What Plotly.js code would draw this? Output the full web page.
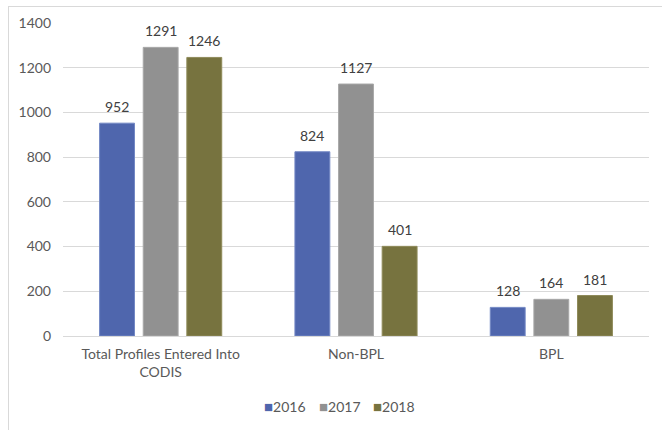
<!DOCTYPE html>
<html>
<head>
<meta charset="utf-8">
<script src="https://cdn.plot.ly/plotly-3.0.1.min.js"></script>
<style>
  html, body { margin: 0; padding: 0; background: #ffffff; }
  #wrap { position: relative; width: 662px; height: 430px; overflow: hidden; }
  #frame { position: absolute; left: 8px; top: 6px; width: 700px; height: 500px;
           border-top: 1.5px solid #d9d9d9; border-left: 1.5px solid #d9d9d9; pointer-events: none; }
  #chart { position: absolute; left: 0; top: 0; width: 662px; height: 430px; }
</style>
</head>
<body>
<div id="wrap">
  <div id="chart"></div>
  <div id="frame"></div>
</div>
<script>
const categories = ["Total Profiles Entered Into<br>CODIS", "Non-BPL", "BPL"];
const seriesNames = ["2016", "2017", "2018"];
const values2016 = [952, 824, 128];
const values2017 = [1291, 1127, 164];
const values2018 = [1246, 401, 181];
const colors = ["#4f66ad", "#919191", "#77733f"];
const lineColors = ["#7388c4", "#a8a8a8", "#8f8b5a"];
const legendX = [0.379, 0.473, 0.564];

const allValues = [values2016, values2017, values2018];
const fontFamily = "Lato, 'Open Sans', sans-serif";
const bargap = 0.33;
const nSeries = allValues.length;
const slot = (1 - bargap) / nSeries;

const traces = allValues.map((vals, i) => ({
  type: "bar",
  name: seriesNames[i],
  x: categories,
  y: vals,
  marker: { color: colors[i], line: { color: lineColors[i], width: 1 } },
  hoverinfo: "none",
  showlegend: false
}));

const valueLabels = [];
allValues.forEach((vals, i) => {
  vals.forEach((v, c) => {
    valueLabels.push({
      xref: "x", yref: "y",
      x: c + (i - (nSeries - 1) / 2) * slot,
      y: v,
      xanchor: "center", yanchor: "bottom",
      yshift: 6,
      showarrow: false,
      text: String(v),
      font: { family: fontFamily, size: 14, color: "#404040" }
    });
  });
});

const legendAnnotations = seriesNames.map((name, i) => ({
  xref: "paper", yref: "paper",
  x: legendX[i], y: -0.2236,
  xanchor: "center", yanchor: "middle",
  showarrow: false,
  text: '<span style="color:' + colors[i] + ';font-size:15px">■</span>' + name,
  font: { family: fontFamily, size: 14, color: "#595959" }
}));

const layout = {
  width: 662,
  height: 430,
  margin: { l: 63, r: 13, t: 23, b: 94 },
  paper_bgcolor: "rgba(0,0,0,0)",
  plot_bgcolor: "rgba(0,0,0,0)",
  barmode: "group",
  bargap: bargap,
  bargroupgap: 0.2,
  font: { family: fontFamily, size: 14, color: "#595959" },
  xaxis: {
    showgrid: false,
    showline: false,
    ticks: "",
    ticklabelstandoff: 8,
    tickfont: { family: fontFamily, size: 14, color: "#595959" },
    automargin: false
  },
  yaxis: {
    range: [0, 1400],
    dtick: 200,
    showgrid: true,
    gridcolor: "#d9d9d9",
    gridwidth: 1,
    zeroline: true,
    zerolinecolor: "#d9d9d9",
    zerolinewidth: 1,
    showline: false,
    ticks: "",
    ticklabelstandoff: 11,
    tickfont: { family: fontFamily, size: 14, color: "#595959" },
    automargin: false
  },
  showlegend: false,
  annotations: valueLabels.concat(legendAnnotations)
};

Plotly.newPlot("chart", traces, layout, { displayModeBar: false, staticPlot: true });
</script>
</body>
</html>
